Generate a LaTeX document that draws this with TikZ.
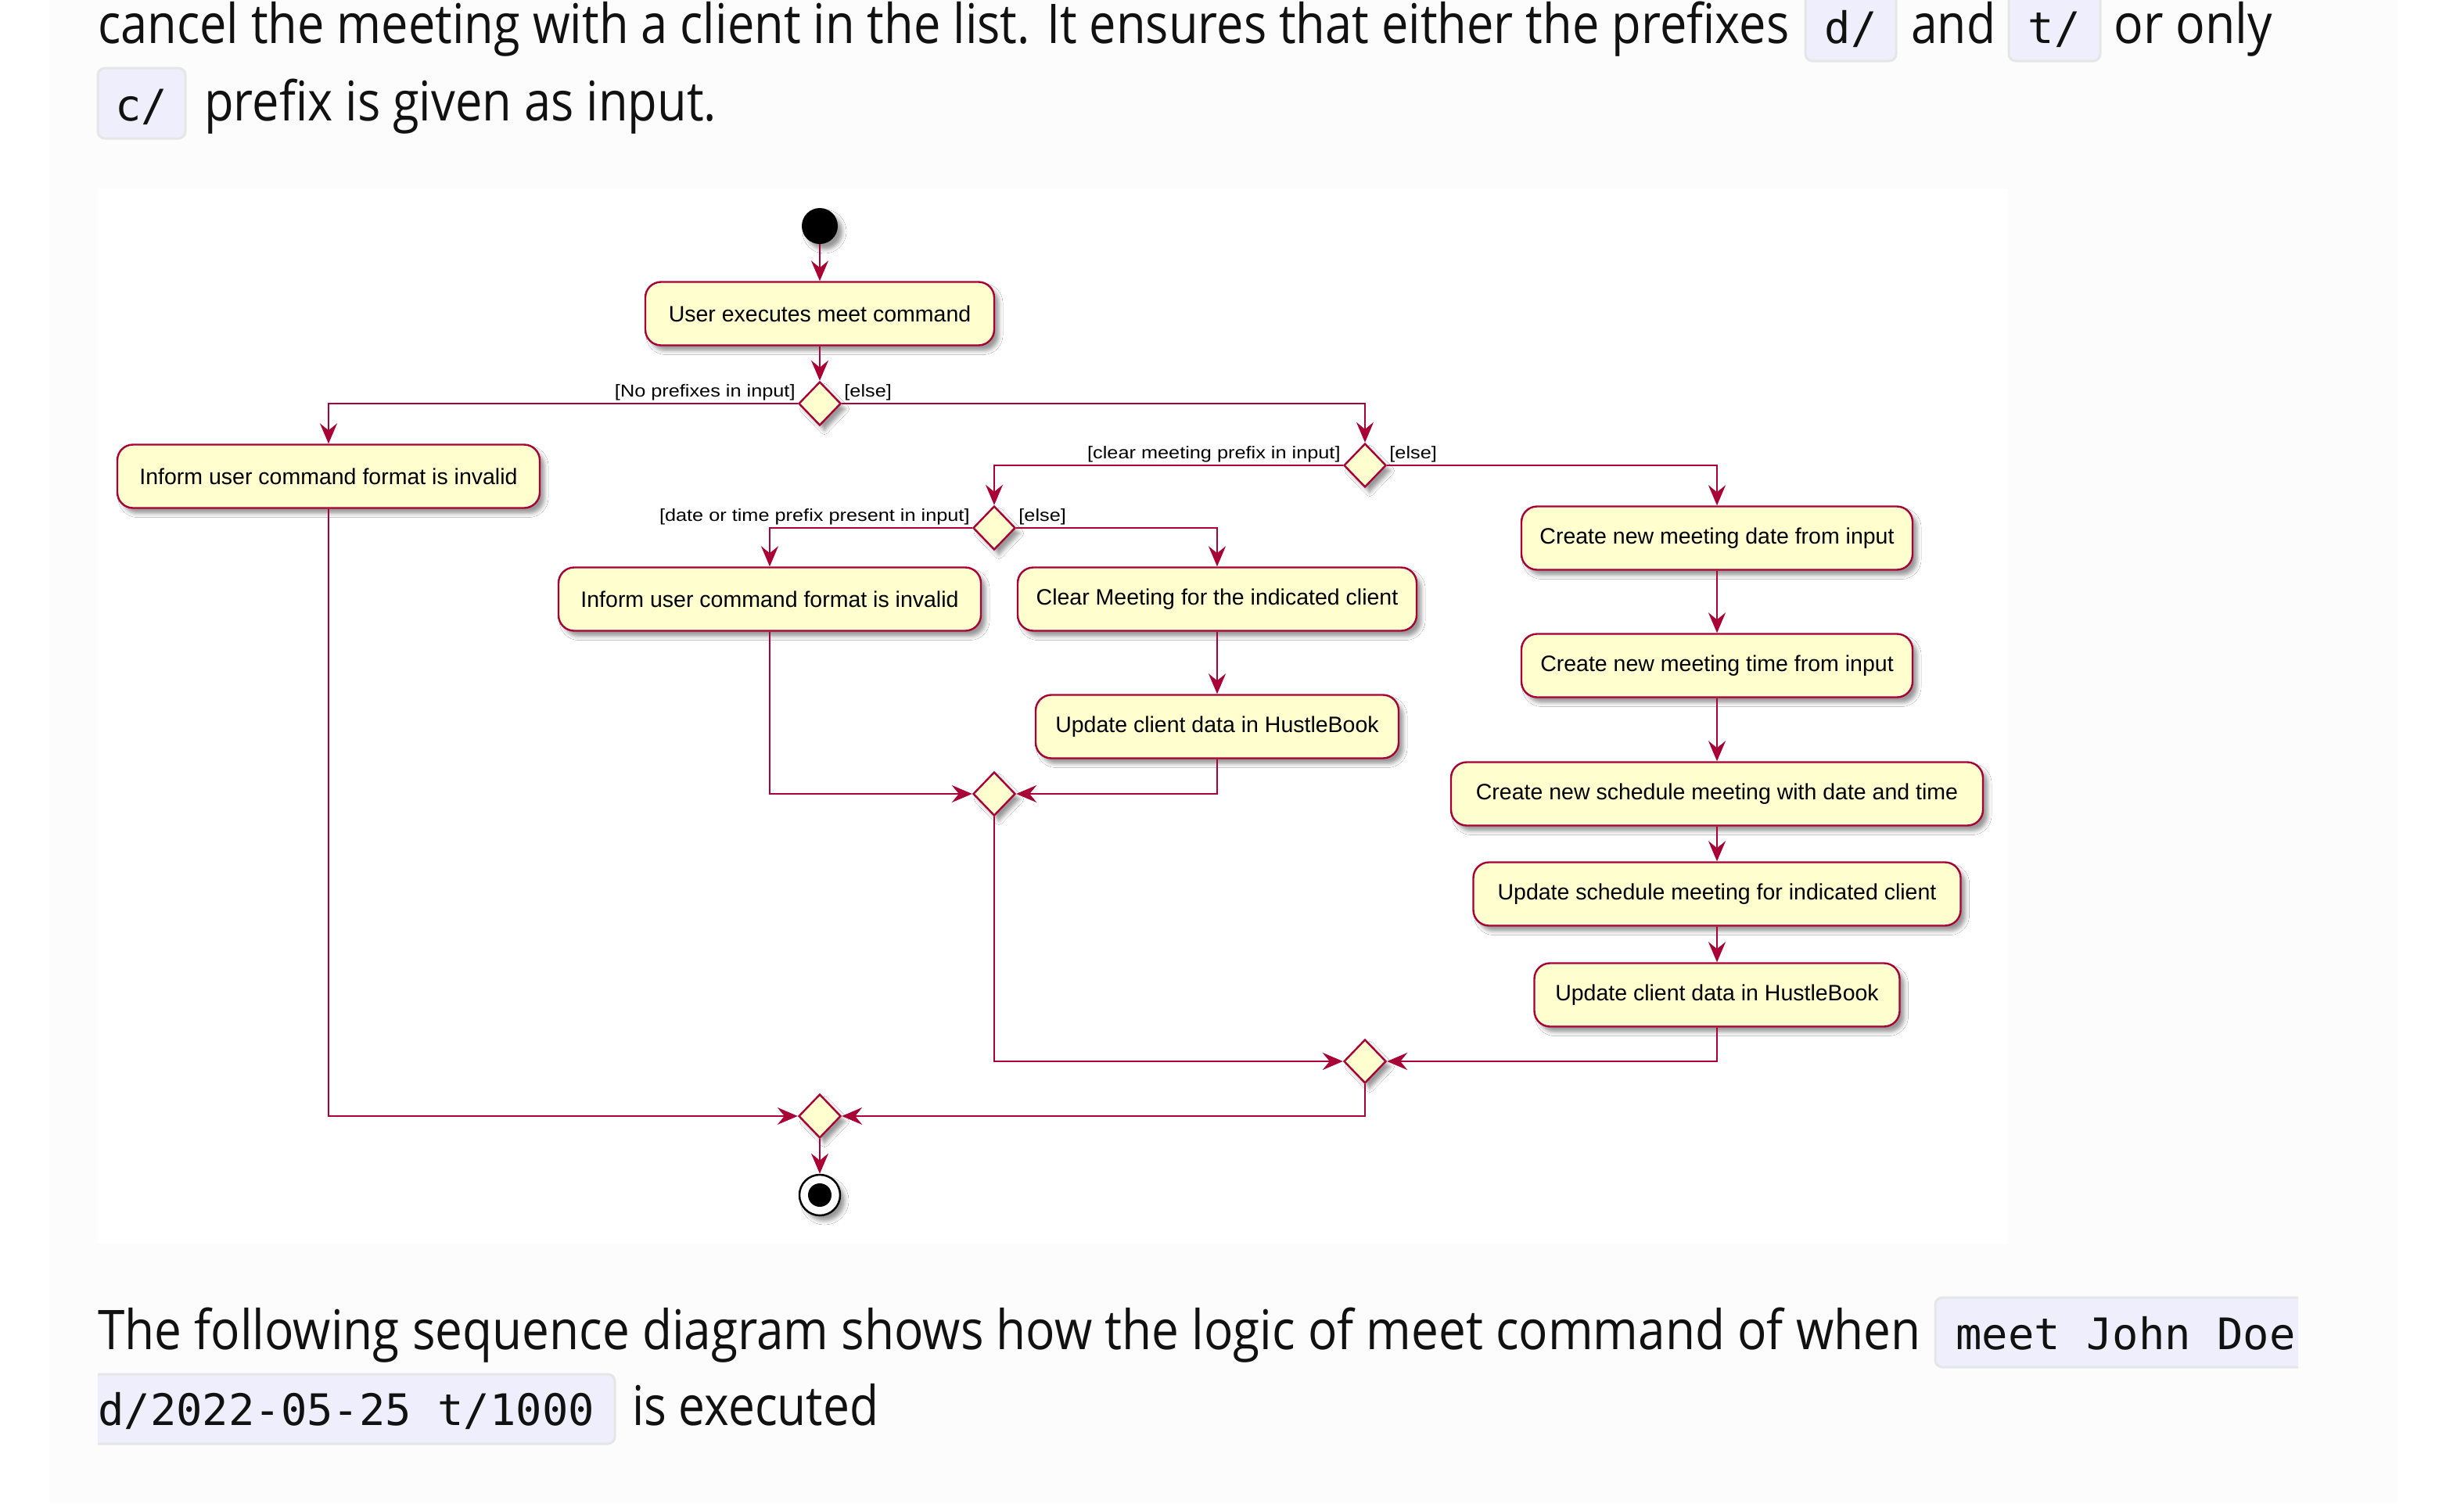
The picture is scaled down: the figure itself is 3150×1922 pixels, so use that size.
\documentclass[tikz,border=0pt]{standalone}
\usepackage{fontspec}
\usepackage{graphicx}
\usetikzlibrary{arrows.meta,shapes.geometric,shadows.blur}
\newfontfamily\bodyfont{Open Sans}
\newfontfamily\codefont{DejaVu Sans Mono}
\newfontfamily\boxfont{Liberation Sans}
\newfontfamily\lblfont{Liberation Sans}[FakeStretch=1.15]
\definecolor{pred}{HTML}{A80036}
\definecolor{pfill}{HTML}{FEFECE}
\definecolor{panel}{HTML}{FCFCFC}
\definecolor{codebg}{HTML}{EEEEFC}
\definecolor{codeline}{HTML}{E6E6E6}
\definecolor{ink}{HTML}{111111}
\begin{document}
\begin{tikzpicture}[x=1pt,y=-1pt,
  pshadow/.style={blur shadow={shadow xshift=6pt,shadow yshift=-7pt,shadow blur radius=5pt,shadow opacity=40}},
  act/.style={draw=pred,fill=pfill,line width=2.4pt,rounded corners=20pt,minimum height=81pt,inner sep=0pt,
    font=\boxfont\fontsize{28.5}{34}\selectfont,text=black,pshadow},
  dia/.style={shape=diamond,draw=pred,fill=pfill,line width=2.4pt,minimum width=54pt,minimum height=56pt,inner sep=0pt,pshadow},
  flow/.style={draw=pred,line width=2.4pt,-{Stealth[length=26pt,width=22pt,inset=9pt]}},
  lbl/.style={font=\lblfont\fontsize{22}{26}\selectfont,inner sep=0pt,text=black},
  bodytxt/.style={anchor=base west,inner sep=0pt,text=ink,font=\bodyfont\fontsize{70}{84}\selectfont},
  codetxt/.style={inner sep=0pt,text=ink,font=\codefont\fontsize{55.5}{66}\selectfont},
  codebox/.style={fill=codebg,draw=codeline,line width=3pt,rounded corners=9pt}]
\useasboundingbox (0,0) rectangle (3150,1922);
\clip (0,0) rectangle (3150,1922);
% page
\fill[white] (0,0) rectangle (3150,1922);
\fill[panel] (63,0) rectangle (3065,1922);
\fill[white] (125,241) rectangle (2567,1590);

% ---- text above
\node[bodytxt] (t1a) at (125,55) {\resizebox{2162pt}{\height}{cancel the meeting with a client in the list. It ensures that either the prefixes}};
\path[codebox] (2308,-12) rectangle (2424,78);
\node[codetxt,anchor=base] (c1) at (2366,55) {d/};
\node[bodytxt] (t1b) at (2443,55) {\resizebox{108pt}{\height}{and}};
\path[codebox] (2568,-12) rectangle (2685,78);
\node[codetxt,anchor=base] (c2) at (2626,55) {t/};
\node[bodytxt] (t1c) at (2702,55) {\resizebox{203pt}{\height}{or only}};
\path[codebox] (125,87) rectangle (237,177);
\node[codetxt,anchor=base] (c3) at (181,154) {c/};
\node[bodytxt] (t2) at (261,154) {\resizebox{655pt}{\height}{prefix is given as input.}};

% ---- text below
\node[bodytxt] (b1) at (125,1725) {\resizebox{2330pt}{\height}{The following sequence diagram shows how the logic of meet command of when}};
\fill[codebg,rounded corners=9pt] (2938,1659) -- (2474,1659) -- (2474,1748) [sharp corners] -- (2938,1748) -- cycle;
\draw[codeline,line width=3pt,rounded corners=9pt] (2938,1659) -- (2474,1659) -- (2474,1748) -- (2938,1748);
\node[codetxt,anchor=base west] (c4) at (2500,1725) {meet John Doe};
\fill[codebg,rounded corners=9pt] (125,1757) -- (786,1757) -- (786,1846) [sharp corners] -- (125,1846) -- cycle;
\draw[codeline,line width=3pt,rounded corners=9pt] (125,1757) -- (786,1757) -- (786,1846) -- (125,1846);
\node[codetxt,anchor=base west] (c5) at (125,1822) {d/2022-05-25 t/1000};
\node[bodytxt] (b2) at (808,1822) {\resizebox{315pt}{\height}{is executed}};

% ---- diagram
\node[circle,fill=black,minimum size=46pt,inner sep=0pt,pshadow] (st) at (1048,289) {};
\node[act,minimum width=446pt] (a1) at (1048,401) {User executes meet command};
\node[dia] (d1) at (1048,516) {};
\node[act,minimum width=540pt] (inf1) at (420,609) {Inform user command format is invalid};
\node[dia] (d2) at (1745,595) {};
\node[dia] (d3) at (1271,675) {};
\node[act,minimum width=540pt] (inf2) at (984,766) {Inform user command format is invalid};
\node[act,minimum width=510pt] (clr) at (1556,766) {Clear Meeting for the indicated client};
\node[act,minimum width=464pt] (up1) at (1556,929) {Update client data in HustleBook};
\node[act,minimum width=500pt] (cd) at (2195,688) {Create new meeting date from input};
\node[act,minimum width=500pt] (ct) at (2195,851) {Create new meeting time from input};
\node[act,minimum width=680pt] (cs) at (2195,1015) {Create new schedule meeting with date and time};
\node[act,minimum width=623pt] (us) at (2195,1143) {Update schedule meeting for indicated client};
\node[act,minimum width=467pt] (up2) at (2195,1272) {Update client data in HustleBook};
\node[dia] (m1) at (1271,1015) {};
\node[dia] (m2) at (1745,1357) {};
\node[dia] (m3) at (1048,1427) {};
\node[circle,draw=black,fill=white,line width=2.5pt,minimum size=52pt,inner sep=0pt,pshadow] (en) at (1048,1528) {};
\fill[black] (en.center) circle (15pt);

% labels
\node[lbl,anchor=base east] (l1) at ([xshift=-3pt,yshift=9pt]d1.west) {[No prefixes in input]};
\node[lbl,anchor=base west] (l2) at ([xshift=3pt,yshift=9pt]d1.east) {[else]};
\node[lbl,anchor=base east] (l3) at ([xshift=-3pt,yshift=9pt]d2.west) {[clear meeting prefix in input]};
\node[lbl,anchor=base west] (l4) at ([xshift=3pt,yshift=9pt]d2.east) {[else]};
\node[lbl,anchor=base east] (l5) at ([xshift=-3pt,yshift=9pt]d3.west) {[date or time prefix present in input]};
\node[lbl,anchor=base west] (l6) at ([xshift=3pt,yshift=9pt]d3.east) {[else]};

% connectors
\draw[flow] (st) -- (a1);
\draw[flow] (a1) -- (d1);
\draw[flow] (d1.west) -| (inf1.north);
\draw[flow] (d1.east) -| (d2.north);
\draw[flow] (d2.west) -| (d3.north);
\draw[flow] (d2.east) -| (cd.north);
\draw[flow] (d3.west) -| (inf2.north);
\draw[flow] (d3.east) -| (clr.north);
\draw[flow] (clr) -- (up1);
\draw[flow] (cd) -- (ct);
\draw[flow] (ct) -- (cs);
\draw[flow] (cs) -- (us);
\draw[flow] (us) -- (up2);
\draw[flow] (inf2.south) |- (m1.west);
\draw[flow] (up1.south) |- (m1.east);
\draw[flow] (m1.south) |- (m2.west);
\draw[flow] (up2.south) |- (m2.east);
\draw[flow] (m2.south) |- (m3.east);
\draw[flow] (inf1.south) |- (m3.west);
\draw[flow] (m3.south) -- (en.north);
\end{tikzpicture}
\end{document}
